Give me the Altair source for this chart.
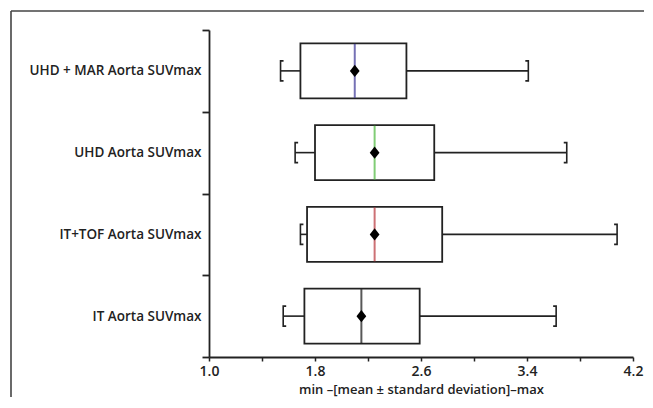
import altair as alt
import pandas as pd

categories = ["UHD + MAR Aorta SUVmax", "UHD Aorta SUVmax", "IT+TOF Aorta SUVmax", "IT Aorta SUVmax"]
mins = [1.54, 1.65, 1.69, 1.56]
q1s = [1.69, 1.80, 1.74, 1.72]
medians = [2.10, 2.25, 2.25, 2.15]
q3s = [2.49, 2.70, 2.76, 2.59]
maxs = [3.41, 3.70, 4.08, 3.62]
means = [2.10, 2.25, 2.25, 2.15]
median_colors = ["#3a3596", "#4cb83c", "#b8353b", "#111111"]

x_ticks = [1.0, 1.2, 1.4, 1.6, 1.8, 2.0, 2.2, 2.4, 2.6, 2.8, 3.0, 3.2, 3.4, 3.6, 3.8, 4.0, 4.2]
x_labels = [1.0, 1.8, 2.6, 3.4, 4.2]

df = pd.DataFrame({
    "cat": categories, "min": mins, "q1": q1s, "median": medians,
    "q3": q3s, "max": maxs, "mean": means,
})

FONT = "Open Sans"
INK = "#222222"

W, H = 424, 327
PAD = {"left": 201, "top": 22, "right": 11, "bottom": 40}

label_test = "||".join(f"datum.value=={v}" for v in x_labels)

xscale = alt.Scale(domain=[1.0, 4.2], nice=False, zero=False)
yscale = alt.Scale(domain=categories, paddingInner=0, paddingOuter=0)

x_axis = alt.Axis(
    values=x_ticks,
    labelExpr=f"({label_test}) ? format(datum.value, '.1f') : ''",
    title="min \u2013[mean \u00b1 standard deviation]\u2013max",
    grid=False, tickSize=4, tickWidth=1.5, tickColor=INK,
    domainColor=INK, domainWidth=1.8,
    labelFont=FONT, labelFontSize=14, labelFontWeight=600, labelColor=INK,
    labelPadding=3, labelFlush=False, labelOverlap=False,
    titleFont=FONT, titleFontSize=13, titleFontWeight=600, titleColor=INK,
    titlePadding=5,
)
y_axis = alt.Axis(
    title=None, grid=False, tickBand="extent", tickSize=7, tickWidth=1.8,
    tickColor=INK, domainColor=INK, domainWidth=1.8,
    labelFont=FONT, labelFontSize=13.5, labelFontWeight=600, labelColor=INK,
    labelPadding=1, labelLimit=300,
)

base = alt.Chart(df)
Y = alt.Y("cat:N", scale=yscale, axis=y_axis, sort=categories)

one = pd.DataFrame({"a": [0]})
frame_top = alt.Chart(one).mark_rule(color="#444444", strokeWidth=1.6).encode(
    x=alt.value(-198), x2=alt.value(W + PAD["right"]), y=alt.value(-19)
)
frame_left = alt.Chart(one).mark_rule(color="#444444", strokeWidth=1.6).encode(
    x=alt.value(-198), y=alt.value(-19), y2=alt.value(H + PAD["bottom"])
)

wl = base.mark_rule(color=INK, strokeWidth=1.6).encode(
    x=alt.X("min:Q", scale=xscale, axis=x_axis), x2="q1:Q", y=Y)
wr = base.mark_rule(color=INK, strokeWidth=1.6).encode(
    x=alt.X("q3:Q", scale=xscale), x2="max:Q", y=Y)
box = base.mark_bar(size=55, fill="white", stroke=INK, strokeWidth=1.8).encode(
    x=alt.X("q1:Q", scale=xscale), x2="q3:Q", y=Y)
med = base.mark_tick(size=54, thickness=2).encode(
    x=alt.X("median:Q", scale=xscale), y=Y,
    color=alt.Color("cat:N", scale=alt.Scale(domain=categories, range=median_colors), legend=None))
mean = base.mark_point(
    shape="M0,-1L0.8,0L0,1L-0.8,0Z", filled=True, size=150, color="#000000", opacity=1
).encode(x=alt.X("mean:Q", scale=xscale), y=Y)
capl = base.mark_point(
    shape="M0.3,-1L0,-1L0,1L0.3,1", filled=False, size=400, color=INK, strokeWidth=1.6, opacity=1
).encode(x=alt.X("min:Q", scale=xscale), y=Y)
capr = base.mark_point(
    shape="M-0.3,-1L0,-1L0,1L-0.3,1", filled=False, size=400, color=INK, strokeWidth=1.6, opacity=1
).encode(x=alt.X("max:Q", scale=xscale), y=Y)

chart = alt.layer(frame_top, frame_left, wl, wr, box, med, mean, capl, capr).properties(
    width=W, height=H,
    autosize=alt.AutoSizeParams(type="none"),
    padding=PAD,
    background="white",
).configure_view(stroke=None)

chart.save("out.html", embed_options={"renderer": "svg", "actions": False})
